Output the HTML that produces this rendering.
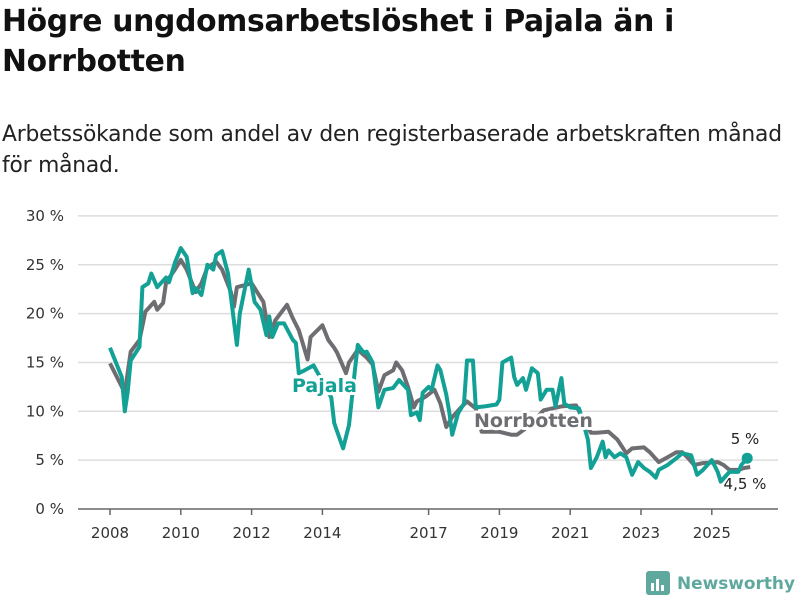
<!DOCTYPE html>
<html><head><meta charset="utf-8"><style>
body{margin:0;background:#fff;font-family:"Liberation Sans","DejaVu Sans",sans-serif;}
#w{position:relative;width:800px;height:600px;overflow:hidden;}
h1{position:absolute;left:2px;top:2px;margin:0;font-size:29.8px;line-height:40px;font-weight:bold;color:#111;font-family:"DejaVu Sans",sans-serif;letter-spacing:-0.3px}
p.sub{position:absolute;left:2px;top:119px;margin:0;font-size:21.8px;line-height:31px;color:#222;font-family:"DejaVu Sans",sans-serif;letter-spacing:-0.2px}
</style></head><body>
<div id="w">
<h1>Högre ungdomsarbetslöshet i Pajala än i<br>Norrbotten</h1>
<p class="sub">Arbetssökande som andel av den registerbaserade arbetskraften månad<br>för månad.</p>
<svg id="c" width="800" height="600" style="position:absolute;left:0;top:0"></svg>
</div>
<script>
const yTicks=[0,5,10,15,20,25,30];
const yTickLabels=["0 %","5 %","10 %","15 %","20 %","25 %","30 %"];
const xTickYears=[2008,2010,2012,2014,2017,2019,2021,2023,2025];
const pajalaMonths=[0,4,5,6,7,10,11,13,14,16,19,20,22,24,26,28,29,31,33,35,36,38,40,43,44,47,49,51,53,54,55,57,59,62,63,64,66,69,73,75,76,79,81,83,84,86,87,89,91,93,96,98,101,102,104,105,106,108,109,111,112,114,115,116,118,120,121,123,124,127,131,132,133,136,137,138,140,141,143,145,146,148,150,151,153,154,156,159,160,162,163,165,167,168,169,171,173,175,177,179,181,183,185,186,189,192,194,197,199,201,204,206,207,210,213,214,216];
const pajalaValues=[16.5,13.5,10,12,15.2,16.6,22.7,23.1,24.1,22.7,23.7,23.2,25.2,26.7,25.8,22.1,22.6,21.9,25,24.5,26,26.4,24.1,16.8,20,24.5,21.2,20.4,17.8,19.7,17.6,19,19,17.3,17,13.9,14.2,14.7,12.5,11.4,8.8,6.2,8.6,14.2,16.8,16,16.1,15,10.4,12.2,12.4,13.2,12.2,9.6,9.9,9.1,11.9,12.5,12.2,14.7,14.2,11.7,9.9,7.6,9.8,10.8,15.2,15.2,10.4,10.5,10.7,11.2,15,15.5,13.5,12.7,13.4,12.2,14.4,13.9,11.2,12.2,12.2,10.5,13.4,10.8,10.4,10.3,9.3,7.1,4.2,5.3,6.9,5.3,6,5.3,5.7,5.3,3.5,4.8,4.2,3.8,3.2,4,4.5,5.2,5.7,5.5,3.5,4,5,3.8,2.8,3.8,3.8,4.5,5.2];
const norrMonths=[0,5,7,10,12,15,16,18,19,22,24,26,29,31,33,36,38,41,42,43,48,52,54,56,60,62,64,67,68,72,74,76,77,80,81,84,87,89,91,93,96,97,99,101,103,104,107,110,112,114,116,119,121,124,126,132,136,138,142,147,153,158,160,163,165,169,172,175,177,181,183,186,189,192,194,196,198,201,206,208,210,213,215,217];
const norrValues=[14.9,11.9,16.1,17.3,20.2,21.2,20.4,21.1,23.2,24.5,25.5,24.5,22.2,23.1,24.7,25.3,24.5,22.2,20.7,22.7,23.1,21.2,17.6,19.3,20.9,19.5,18.3,15.3,17.6,18.8,17.3,16.5,16,13.9,15,16.3,15.5,14.8,12,13.7,14.2,15,14.2,12.5,10.4,11,11.5,12.2,10.8,8.4,9.4,10.4,11,10.3,7.9,7.9,7.6,7.6,8.5,10.1,10.5,10.6,9.4,7.8,7.8,7.9,7.1,5.7,6.2,6.3,5.8,4.8,5.3,5.8,5.8,5.2,4.5,4.7,4.8,4.5,4,4,4.2,4.3];
const lastPajala="5 %", lastNorr="4,5 %";

const svg=document.getElementById('c');
const NS="http://www.w3.org/2000/svg";
const X0=110, PXM=2.95, Y0=509, PXV=9.77;
function xM(m){return X0+m*PXM;}
function xY(y){return xM((y-2008)*12);}
function yV(v){return Y0-v*PXV;}
function mk(t,a,txt){const e=document.createElementNS(NS,t);for(const k in a)e.setAttribute(k,a[k]);if(txt!=null)e.textContent=txt;svg.appendChild(e);return e;}
const FONT='"DejaVu Sans","Liberation Sans",sans-serif';
yTicks.forEach((v,i)=>{
  const g=mk('line',{x1:78,x2:778,y1:yV(v),y2:yV(v),stroke:v===0?'#666':'#ddd','stroke-width':1.5});
  
  
  const t=mk('text',{x:64,y:yV(v)+5,'text-anchor':'end','font-size':15,fill:'#333','font-family':FONT},yTickLabels[i]);
  
  
});
xTickYears.forEach(y=>{
  const l=mk('line',{x1:xY(y),x2:xY(y),y1:509,y2:515,stroke:'#666','stroke-width':1.5});
  
  
  const t=mk('text',{x:xY(y),y:538,'text-anchor':'middle','font-size':15,fill:'#333','font-family':FONT},String(y));
  
  
});
function pathOf(ms,vs){return ms.map((m,i)=>(i?'L':'M')+xM(m).toFixed(1)+','+yV(vs[i]).toFixed(1)).join('');}
const pn=mk('path',{d:pathOf(norrMonths,norrValues),fill:'none',stroke:'#6e6e72','stroke-width':4,'stroke-linejoin':'round'});


const pp=mk('path',{d:pathOf(pajalaMonths,pajalaValues),fill:'none',stroke:'#13a196','stroke-width':4,'stroke-linejoin':'round'});


function lab(x,y,txt,col,name){
  const h=mk('text',{x:x,y:y,'font-size':19,'font-weight':'bold',fill:'#fff',stroke:'#fff','stroke-width':6,'stroke-linejoin':'round','font-family':FONT},txt);
  
  
  const t=mk('text',{x:x,y:y,'font-size':19,'font-weight':'bold',fill:col,'font-family':FONT},txt);
  
  
}
lab(292,392,'Pajala','#13a196','pajala-label');
lab(474,427,'Norrbotten','#6e6e72','norrbotten-label');
const lm=pajalaMonths[pajalaMonths.length-1], lv=pajalaValues[pajalaValues.length-1];
const dot=mk('circle',{cx:xM(lm),cy:yV(lv),r:5.5,fill:'#13a196'});


const t1=mk('text',{x:745,y:444,'text-anchor':'middle','font-size':15,fill:'#222','font-family':FONT},lastPajala);


const t2=mk('text',{x:745,y:489,'text-anchor':'middle','font-size':15,fill:'#222','font-family':FONT},lastNorr);


// logo
const lg=mk('rect',{x:646,y:571,width:24,height:24,rx:3,fill:'#5fa89d'});


[[651,583,3,8],[656,579,3,12],[661,585,3,6]].forEach(r=>{const b=mk('rect',{x:r[0],y:r[1],width:r[2],height:r[3],fill:'#fff'});});
const lt=mk('text',{x:677,y:589,'font-size':17,'font-weight':'bold',fill:'#5fa89d','font-family':FONT,textLength:118,lengthAdjust:'spacingAndGlyphs'},'Newsworthy');


</script>
</body></html>
